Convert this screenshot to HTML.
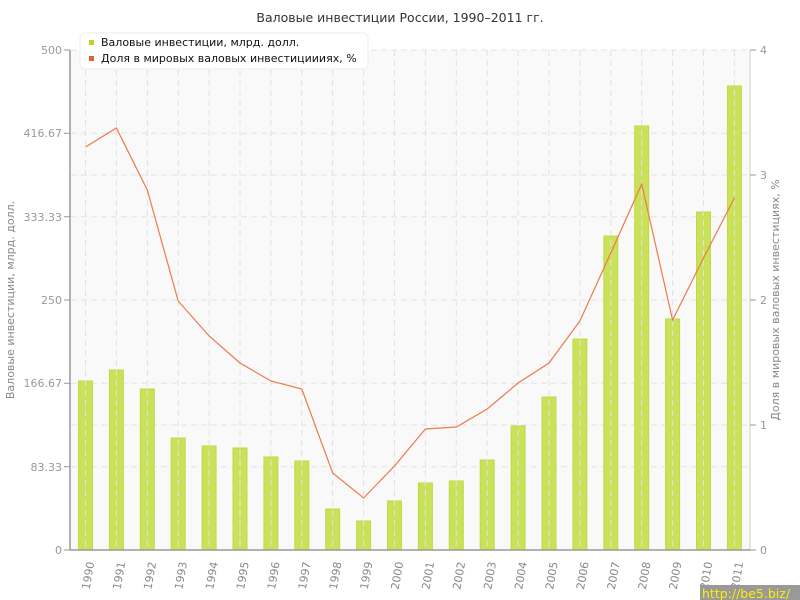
<!DOCTYPE html><html><head><meta charset="utf-8"><style>body{margin:0;background:#fff}svg{display:block}text{font-family:"DejaVu Sans","Liberation Sans",sans-serif}</style></head><body>
<svg width="800" height="600" xmlns="http://www.w3.org/2000/svg">
<text x="400" y="22" font-size="12.5" text-anchor="middle" fill="#333">Валовые инвестиции России, 1990–2011 гг.</text>
<rect x="71" y="50" width="679" height="500" fill="#f9f9f9"/>
<g stroke="#e2e2e2" stroke-dasharray="6,4" stroke-width="1">
<line x1="71" x2="750" y1="133.3" y2="133.3"/><line x1="71" x2="750" y1="216.7" y2="216.7"/><line x1="71" x2="750" y1="300" y2="300"/><line x1="71" x2="750" y1="383.3" y2="383.3"/><line x1="71" x2="750" y1="466.7" y2="466.7"/>
<line x1="71" x2="750" y1="175" y2="175"/><line x1="71" x2="750" y1="425" y2="425"/>
<line x1="71" x2="750" y1="50" y2="50"/>
</g>
<g fill="#c9e25a" stroke="#bfdb45" stroke-width="1">
<rect x="78.5" y="381" width="14" height="169"/>
<rect x="109.4" y="370" width="14" height="180"/>
<rect x="140.3" y="389" width="14" height="161"/>
<rect x="171.2" y="438" width="14" height="112"/>
<rect x="202.1" y="446" width="14" height="104"/>
<rect x="233" y="448" width="14" height="102"/>
<rect x="263.9" y="457" width="14" height="93"/>
<rect x="294.8" y="461" width="14" height="89"/>
<rect x="325.7" y="509" width="14" height="41"/>
<rect x="356.6" y="521" width="14" height="29"/>
<rect x="387.5" y="501" width="14" height="49"/>
<rect x="418.4" y="483" width="14" height="67"/>
<rect x="449.3" y="481" width="14" height="69"/>
<rect x="480.2" y="460" width="14" height="90"/>
<rect x="511.1" y="426" width="14" height="124"/>
<rect x="542" y="397" width="14" height="153"/>
<rect x="572.9" y="339" width="14" height="211"/>
<rect x="603.8" y="236" width="14" height="314"/>
<rect x="634.7" y="126" width="14" height="424"/>
<rect x="665.6" y="319" width="14" height="231"/>
<rect x="696.5" y="212" width="14" height="338"/>
<rect x="727.4" y="86" width="14" height="464"/>
</g>
<g stroke="#e2e2e2" stroke-dasharray="6,4">
<line x1="85.5" x2="85.5" y1="50" y2="550"/><line x1="116.4" x2="116.4" y1="50" y2="550"/><line x1="147.3" x2="147.3" y1="50" y2="550"/><line x1="178.2" x2="178.2" y1="50" y2="550"/><line x1="209.1" x2="209.1" y1="50" y2="550"/><line x1="240" x2="240" y1="50" y2="550"/><line x1="270.9" x2="270.9" y1="50" y2="550"/><line x1="301.8" x2="301.8" y1="50" y2="550"/><line x1="332.7" x2="332.7" y1="50" y2="550"/><line x1="363.6" x2="363.6" y1="50" y2="550"/><line x1="394.5" x2="394.5" y1="50" y2="550"/><line x1="425.4" x2="425.4" y1="50" y2="550"/><line x1="456.3" x2="456.3" y1="50" y2="550"/><line x1="487.2" x2="487.2" y1="50" y2="550"/><line x1="518.1" x2="518.1" y1="50" y2="550"/><line x1="549" x2="549" y1="50" y2="550"/><line x1="579.9" x2="579.9" y1="50" y2="550"/><line x1="610.8" x2="610.8" y1="50" y2="550"/><line x1="641.7" x2="641.7" y1="50" y2="550"/><line x1="672.6" x2="672.6" y1="50" y2="550"/><line x1="703.5" x2="703.5" y1="50" y2="550"/><line x1="734.4" x2="734.4" y1="50" y2="550"/>
</g>
<polyline fill="none" stroke="#ec7a4d" stroke-width="1.2" points="85.5,147 116.4,128 147.3,190 178.2,301 209.1,336 240,363 270.9,381 301.8,389 332.7,473 363.6,498 394.5,466 425.4,429 456.3,427 487.2,409 518.1,383 549,363 579.9,321 610.8,253 641.7,184 672.6,320 703.5,258 734.4,198"/>
<line x1="70" y1="50" x2="70" y2="550" stroke="#999" stroke-width="1.5"/>
<line x1="750" y1="50" x2="750" y2="550" stroke="#ddd" stroke-width="1.5"/>
<line x1="70" y1="550" x2="750" y2="550" stroke="#999" stroke-width="1.5"/>
<g stroke="#999"><line x1="64" x2="70" y1="50" y2="50"/><line x1="64" x2="70" y1="133.3" y2="133.3"/><line x1="64" x2="70" y1="216.7" y2="216.7"/><line x1="64" x2="70" y1="300" y2="300"/><line x1="64" x2="70" y1="383.3" y2="383.3"/><line x1="64" x2="70" y1="466.7" y2="466.7"/><line x1="64" x2="70" y1="550" y2="550"/>
<line x1="750" x2="756" y1="50" y2="50"/><line x1="750" x2="756" y1="175" y2="175"/><line x1="750" x2="756" y1="300" y2="300"/><line x1="750" x2="756" y1="425" y2="425"/><line x1="750" x2="756" y1="550" y2="550"/></g>
<g font-size="11" fill="#999" text-anchor="end">
<text x="62" y="54">500</text><text x="62" y="137">416.67</text><text x="62" y="221">333.33</text><text x="62" y="304">250</text><text x="62" y="387">166.67</text><text x="62" y="471">83.33</text><text x="62" y="554">0</text></g>
<g font-size="11" fill="#999"><text x="760" y="54">4</text><text x="760" y="179">3</text><text x="760" y="304">2</text><text x="760" y="429">1</text><text x="760" y="554">0</text></g>
<text transform="translate(14,300) rotate(-90)" font-size="11" fill="#888" text-anchor="middle">Валовые инвестиции, млрд. долл.</text>
<text transform="translate(779,300) rotate(-90)" font-size="11" fill="#888" text-anchor="middle">Доля в мировых валовых инвестициях, %</text>
<g font-size="11" fill="#888">
<text transform="translate(89.5,590) rotate(-80)">1990</text>
<text transform="translate(120.4,590) rotate(-80)">1991</text>
<text transform="translate(151.3,590) rotate(-80)">1992</text>
<text transform="translate(182.2,590) rotate(-80)">1993</text>
<text transform="translate(213.1,590) rotate(-80)">1994</text>
<text transform="translate(244,590) rotate(-80)">1995</text>
<text transform="translate(274.9,590) rotate(-80)">1996</text>
<text transform="translate(305.8,590) rotate(-80)">1997</text>
<text transform="translate(336.7,590) rotate(-80)">1998</text>
<text transform="translate(367.6,590) rotate(-80)">1999</text>
<text transform="translate(398.5,590) rotate(-80)">2000</text>
<text transform="translate(429.4,590) rotate(-80)">2001</text>
<text transform="translate(460.3,590) rotate(-80)">2002</text>
<text transform="translate(491.2,590) rotate(-80)">2003</text>
<text transform="translate(522.1,590) rotate(-80)">2004</text>
<text transform="translate(553,590) rotate(-80)">2005</text>
<text transform="translate(583.9,590) rotate(-80)">2006</text>
<text transform="translate(614.8,590) rotate(-80)">2007</text>
<text transform="translate(645.7,590) rotate(-80)">2008</text>
<text transform="translate(676.6,590) rotate(-80)">2009</text>
<text transform="translate(707.5,590) rotate(-80)">2010</text>
<text transform="translate(738.4,590) rotate(-80)">2011</text>
</g>
<rect x="80" y="33" width="288" height="36" rx="5" fill="#fff" stroke="#eee"/>
<rect x="89" y="40" width="5" height="5" fill="#b6d62b"/>
<rect x="89" y="56" width="5" height="5" fill="#e4612e"/>
<text x="101" y="46" font-size="11" fill="#111">Валовые инвестиции, млрд. долл.</text>
<text x="101" y="62" font-size="11" fill="#111">Доля в мировых валовых инвестициииях, %</text>
<rect x="700" y="585" width="100" height="15" fill="#999"/>
<text x="702" y="598" font-size="12.5" fill="#ffee00">http://be5.biz/</text>
</svg></body></html>
